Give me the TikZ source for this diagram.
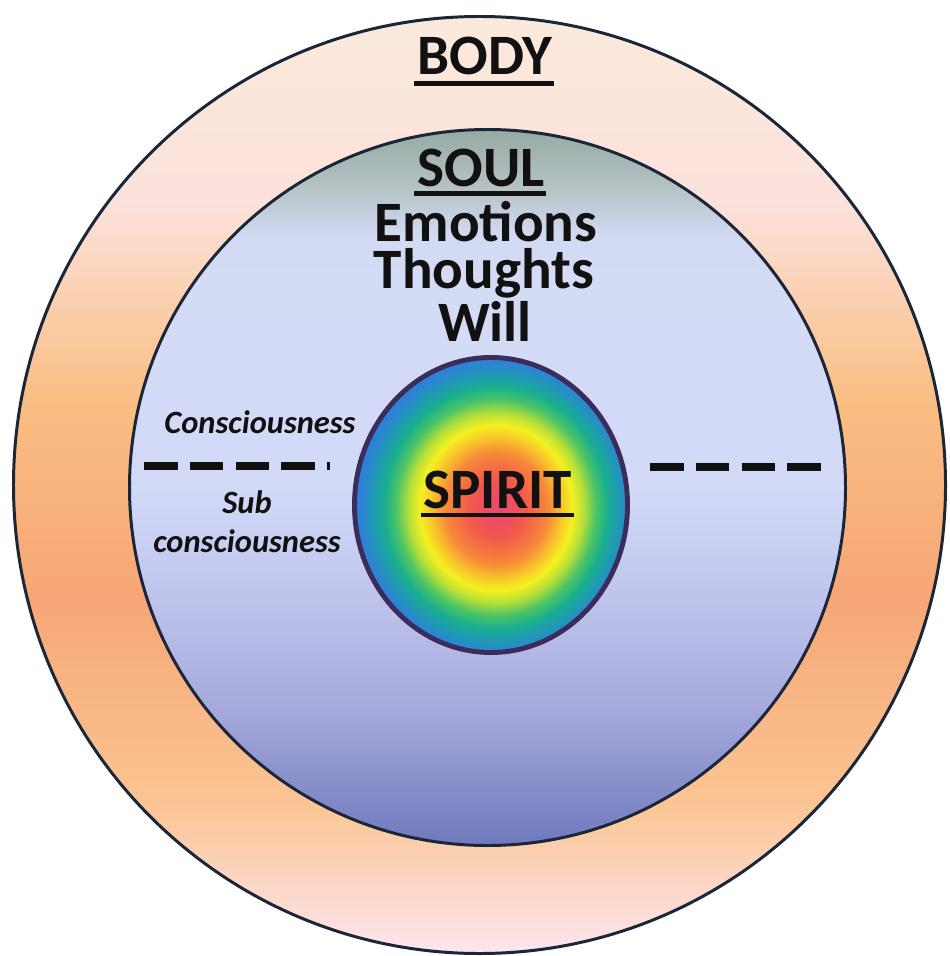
\documentclass[tikz,border=0pt]{standalone}
\usepackage{fontspec}
\setmainfont{Carlito}
\usepackage{tikz}

\definecolor{rimblue}{HTML}{1B2638}
\definecolor{spiritrim}{HTML}{3B2C5C}
\definecolor{inkk}{HTML}{111111}

\pgfdeclareverticalshading{bodyshade}{100bp}{
  color(0bp)=(rgb,255:red,252;green,229;blue,236);
  color(25.3bp)=(rgb,255:red,252;green,229;blue,236);
  color(33bp)=(rgb,255:red,250;green,197;blue,147);
  color(44bp)=(rgb,255:red,247;green,166;blue,118);
  color(54.5bp)=(rgb,255:red,249;green,190;blue,130);
  color(65bp)=(rgb,255:red,252;green,225;blue,220);
  color(75bp)=(rgb,255:red,251;green,234;blue,219);
  color(100bp)=(rgb,255:red,251;green,234;blue,219)}

\pgfdeclareverticalshading{soulshade}{100bp}{
  color(0bp)=(rgb,255:red,111;green,121;blue,189);
  color(25bp)=(rgb,255:red,111;green,121;blue,189);
  color(34bp)=(rgb,255:red,163;green,167;blue,218);
  color(42bp)=(rgb,255:red,189;green,195;blue,236);
  color(50bp)=(rgb,255:red,210;green,218;blue,248);
  color(67.5bp)=(rgb,255:red,211;green,219;blue,244);
  color(71bp)=(rgb,255:red,180;green,194;blue,196);
  color(75bp)=(rgb,255:red,151;green,170;blue,163);
  color(100bp)=(rgb,255:red,151;green,170;blue,163)}

\pgfdeclareradialshading{spiritshade}{\pgfpoint{1.2bp}{-0.6bp}}{
  color(0bp)=(rgb,255:red,236;green,74;blue,106);
  color(3.1bp)=(rgb,255:red,238;green,80;blue,96);
  color(5.2bp)=(rgb,255:red,242;green,90;blue,74);
  color(9.4bp)=(rgb,255:red,247;green,137;blue,58);
  color(12bp)=(rgb,255:red,248;green,198;blue,42);
  color(14bp)=(rgb,255:red,244;green,240;blue,32);
  color(16bp)=(rgb,255:red,184;green,224;blue,56);
  color(18.3bp)=(rgb,255:red,76;green,196;blue,102);
  color(20.5bp)=(rgb,255:red,26;green,174;blue,142);
  color(22.3bp)=(rgb,255:red,30;green,156;blue,176);
  color(24.5bp)=(rgb,255:red,44;green,132;blue,212);
  color(27bp)=(rgb,255:red,47;green,120;blue,216);
  color(70bp)=(rgb,255:red,47;green,120;blue,216)}

\begin{document}
\begin{tikzpicture}[
  big/.style={inner sep=0pt, anchor=base, text=inkk,
    font=\fontsize{32.5}{36}\selectfont\bfseries},
  small/.style={inner sep=0pt, anchor=base, text=inkk,
    font=\fontsize{18.5}{21}\selectfont\bfseries\itshape},
  uline/.style={draw=inkk, line width=2.3pt},
  divider/.style={draw=inkk, line width=4.5pt,
    dash pattern=on 0.67cm off 0.245cm}]
\fill[white] (0,0) rectangle (18.98,-19.12);
\useasboundingbox (0,0) rectangle (18.98,-19.12);
% rings
\shade[shading=bodyshade, draw=rimblue, line width=1.7pt]
  (9.59,-9.70) ellipse (9.32 and 9.37);
\shade[shading=soulshade, draw=rimblue, line width=1.7pt]
  (9.75,-9.75) circle (7.16);
\shade[shading=spiritshade, draw=spiritrim, line width=2.8pt]
  (9.82,-10.10) ellipse (2.73 and 2.95);
% labels
\node[big] (body) at (9.70,-1.50) {BODY};
\node[big] (soul) at (9.62,-3.74) {SOUL};
\node[big] (emo) at (9.72,-4.83) {Emotions};
\node[big] (tho) at (9.68,-5.77) {Thoughts};
\node[big] (will) at (9.70,-6.84) {Will};
\node[big] (spirit) at (9.95,-10.16) {SPIRIT};
\draw[uline] ([shift={(-0.06,-0.17)}]body.base west) -- ([shift={(0.03,-0.17)}]body.base east);
\draw[uline] ([shift={(-0.06,-0.13)}]soul.base west) -- ([shift={(0.03,-0.13)}]soul.base east);
\draw[uline] ([shift={(-0.04,-0.14)}]spirit.base west) -- ([shift={(0.04,-0.14)}]spirit.base east);
\node[small] (con) at (5.20,-8.66) {Consciousness};
\node[small] (sub) at (4.94,-10.26) {Sub};
\node[small] (subcon) at (4.94,-11.04) {consciousness};
% dashed dividers
\coordinate (dl1) at (2.88,-9.32);
\coordinate (dl2) at (6.60,-9.32);
\coordinate (dr1) at (13.00,-9.34);
\coordinate (dr2) at (16.42,-9.34);
\draw[divider] (dl1) -- (dl2);
\draw[divider] (dr1) -- (dr2);
\end{tikzpicture}
\end{document}
